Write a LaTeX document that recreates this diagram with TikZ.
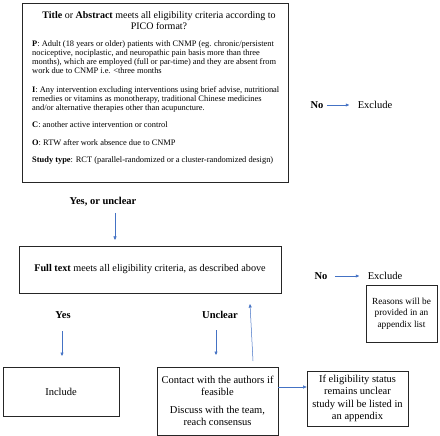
\documentclass[tikz,border=0pt]{standalone}
\usepackage{fontspec}
\setmainfont{Liberation Serif}
\usetikzlibrary{arrows.meta}
\definecolor{arr}{RGB}{68,114,196}
\begin{document}
\begin{tikzpicture}[x=1pt,y=-1pt,
  box/.style={draw=black!85, line width=0.7pt, inner sep=0pt},
  lbl/.style={font=\fontsize{10.5}{12}\selectfont},
  blbl/.style={font=\fontsize{10.5}{12}\selectfont\bfseries},
  arrowline/.style={draw=arr, line width=0.5pt, -{Triangle[length=3.5pt,width=3pt]}},
  ]
\useasboundingbox (0,0) rectangle (440,436);
% top box
\node[box, minimum width=266pt, minimum height=179pt, anchor=north west] (tbox) at (22,3) {};
\node[align=center, inner sep=0pt, font=\fontsize{10}{11}\selectfont] (title) at (159,20.5)
  {\textbf{Title} or \textbf{Abstract} meets all eligibility criteria according to\\PICO format?};
\node[anchor=north west, align=left, inner sep=0pt, font=\fontsize{8.4}{9}\selectfont] (body) at (32,40)
  {\textbf{P}: Adult (18 years or older) patients with CNMP (eg. chronic/persistent\\
   nociceptive, nociplastic, and neuropathic pain basis more than three\\
   months), which are employed (full or par-time) and they are absent from\\
   work due to CNMP i.e. <three months\\[10pt]
   \textbf{I}: Any intervention excluding interventions using brief advise, nutritional\\
   remedies or vitamins as monotherapy, traditional Chinese medicines\\
   and/or alternative therapies other than acupuncture.\\[8pt]
   \textbf{C}: another active intervention or control\\[9pt]
   \textbf{O}: RTW after work absence due to CNMP\\[8pt]
   \textbf{Study type}: RCT (parallel-randomized or a cluster-randomized design)};
% first exclude
\node[blbl] (no1) at (317,105) {No};
\node[lbl] (ex1) at (375,105) {Exclude};
\draw[arrowline, shorten >=5pt] (no1.east) -- (ex1.west);
% yes or unclear
\node[blbl] (yu) at (103,202) {Yes, or unclear};
\coordinate (a1s) at (115,213);
\coordinate (a1e) at (115,240);
\draw[arrowline] (a1s) -- (a1e);
% full text
\node[box, minimum width=262pt, minimum height=47pt, font=\fontsize{10.2}{12}\selectfont] (ft) at (150,269.5)
  {\textbf{Full text} meets all eligibility criteria, as described above};
% second exclude
\node[blbl] (no2) at (321,276) {No};
\node[lbl] (ex2) at (385,276) {Exclude};
\draw[arrowline, shorten >=5pt, shorten <=4pt] (no2.east) -- (ex2.west);
\node[box, minimum width=71pt, minimum height=57pt, align=center, font=\fontsize{9.3}{11.5}\selectfont] (reasons) at (401.5,313.5)
  {Reasons will be\\provided in an\\appendix list};
% yes / unclear
\node[blbl] (yes) at (63,315) {Yes};
\coordinate (a2s) at (62,331);
\coordinate (a2e) at (62,356);
\draw[arrowline] (a2s) -- (a2e);
\node[blbl] (unc) at (220,315) {Unclear};
\coordinate (a3s) at (216,330);
\coordinate (a3e) at (216,355);
\draw[arrowline] (a3s) -- (a3e);
\coordinate (a4s) at (253,361);
\coordinate (a4e) at (250,304);
\draw[arrowline] (a4s) -- (a4e);
% bottom boxes
\node[box, minimum width=116pt, minimum height=49pt, font=\fontsize{10.5}{12}\selectfont] (incl) at (61,391.5) {Include};
\node[box, minimum width=121pt, minimum height=68pt, align=center, font=\fontsize{10.5}{12}\selectfont] (contact) at (217.5,401)
  {Contact with the authors if\\feasible\\[6pt]Discuss with the team,\\reach consensus};
\node[box, minimum width=101pt, minimum height=55pt, align=center, font=\fontsize{10.5}{12.2}\selectfont] (ifb) at (357.5,398.5)
  {If eligibility status\\remains unclear\\study will be listed in\\an appendix};
\draw[arrowline] ([yshift=14pt]contact.east) -- ([yshift=14pt]contact.east -| ifb.west);
\end{tikzpicture}
\end{document}
